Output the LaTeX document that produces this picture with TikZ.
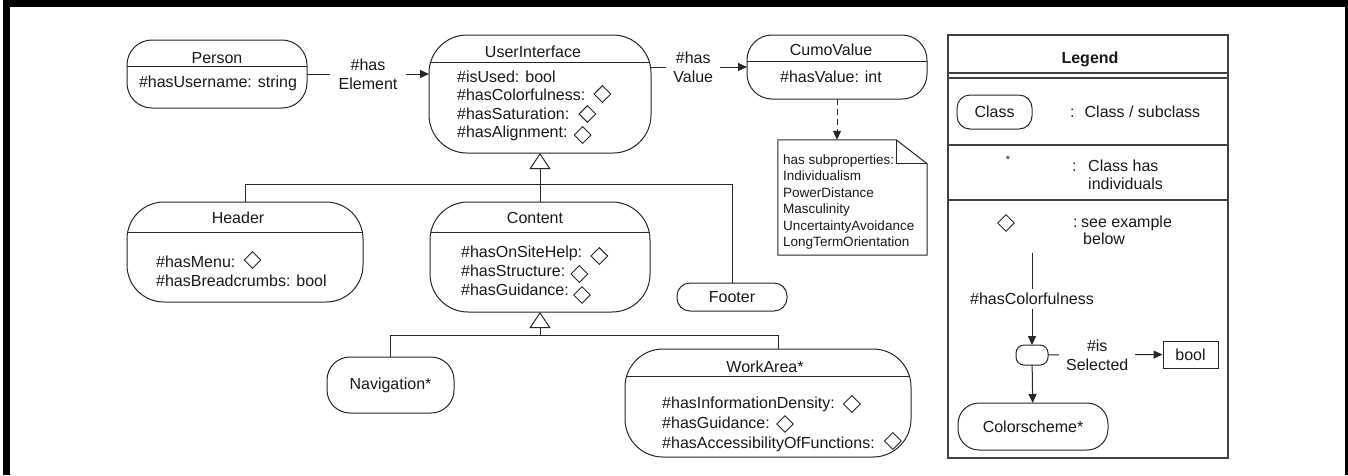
\documentclass[tikz,border=0pt]{standalone}
\usepackage{fontspec}
\setmainfont{Liberation Sans}
\usetikzlibrary{arrows.meta,shapes.geometric}
\tikzset{
  ln/.style={line width=1pt, draw=black!85},
  cls/.style={draw=black!85, line width=1pt, rounded corners=#1pt, inner sep=0pt, outer sep=0pt},
  txt/.style={font=\fontsize{16}{19}\selectfont, text=black!90, inner sep=0pt},
  ntxt/.style={font=\fontsize{13.5}{16}\selectfont, text=black!90, inner sep=0pt},
  dia/.style={draw=black!85, line width=0.9pt, diamond, minimum width=17pt, minimum height=17pt, inner sep=0pt},
  arr/.style={ln, -{Triangle[length=9pt,width=8pt]}},
  inh/.style={ln, -{Triangle[open,length=16pt,width=21pt,fill=white]}},
  lbl/.style={txt, fill=white, align=center, inner xsep=7pt, inner ysep=2pt},
}
\newcommand{\umlbox}[7]{%
  \pgfmathsetmacro\ubw{#4-#2}\pgfmathsetmacro\ubh{#5-#3}%
  \pgfmathsetmacro\ubx{(#2+#4)/2}\pgfmathsetmacro\uby{(#3+#5)/2}%
  \node[cls=#6, minimum width=\ubw pt, minimum height=\ubh pt] (#1) at (\ubx,\uby) {};%
  \ifx&#7&\else
  \begin{scope}\clip[rounded corners=#6pt] (#2,#3) rectangle (#4,#5);\draw[ln] (#2,#7) -- (#4,#7);\end{scope}%
  \fi}
\newcommand{\tl}[4]{\node[txt, anchor=base west] (#1) at (#2,#3) {#4};}
\newcommand{\tc}[4]{\node[txt, anchor=base] (#1) at (#2,#3) {#4};}
\newcommand{\ntl}[4]{\node[ntxt, anchor=base west] (#1) at (#2,#3) {#4};}
\newcommand{\dmr}[4]{\node[dia, anchor=west] (#1) at ([xshift=#3pt, yshift=#4pt]#2.base east) {};}
\begin{document}
\begin{tikzpicture}[x=1pt,y=-1pt]
\useasboundingbox (0,0) rectangle (1348,475);
% frame
\fill[black] (3,0) rectangle (1348,7);
\fill[black] (3,0) rectangle (10,475);
\fill[black] (1345,0) rectangle (1348,475);

% Person
\umlbox{person}{127}{40}{307}{108}{25}{66}
\tc{person-t}{217}{63}{Person}
\tc{person-a}{218}{87}{\#hasUsername: string}

% UserInterface
\umlbox{ui}{429}{35}{651}{153}{38}{62}
\tc{ui-t}{533}{57}{UserInterface}
\tl{ui-a1}{457}{82}{\#isUsed: bool}
\tl{ui-a2}{457}{100}{\#hasColorfulness:}
\tl{ui-a3}{457}{119}{\#hasSaturation:}
\tl{ui-a4}{457}{137}{\#hasAlignment:}
\dmr{ui-d2}{ui-a2}{8}{6}
\dmr{ui-d3}{ui-a3}{9}{5}
\dmr{ui-d4}{ui-a4}{6}{2}

% CumoValue
\umlbox{cumo}{747}{35}{927}{99}{25}{61}
\tc{cumo-t}{831}{55}{CumoValue}
\tc{cumo-a}{831}{82}{\#hasValue: int}

% note
\node[minimum width=149pt, minimum height=115pt, inner sep=0pt] (note) at (852.5,197.5) {};
\draw[ln] (note.north west) -- ([xshift=-31pt]note.north east) -- ([yshift=-24pt]note.north east) -- (note.south east) -- (note.south west) -- cycle;
\draw[ln] ([xshift=-31pt]note.north east) -- ([xshift=-31pt,yshift=-24pt]note.north east) -- ([yshift=-24pt]note.north east);
\ntl{n1}{783}{164}{has subproperties:}
\ntl{n2}{783}{180.5}{Individualism}
\ntl{n3}{783}{197}{PowerDistance}
\ntl{n4}{783}{213.5}{Masculinity}
\ntl{n5}{783}{230}{UncertaintyAvoidance}
\ntl{n6}{783}{246.5}{LongTermOrientation}

% Header
\umlbox{header}{127}{202}{363}{302}{37}{232}
\tc{header-t}{238}{223}{Header}
\tl{header-a1}{156}{267}{\#hasMenu:}
\tl{header-a2}{156}{286}{\#hasBreadcrumbs: bool}
\dmr{header-d1}{header-a1}{8}{7}

% Content
\umlbox{content}{430}{202}{650}{312}{38}{232}
\tc{content-t}{535}{223}{Content}
\tl{content-a1}{461}{257}{\#hasOnSiteHelp:}
\tl{content-a2}{461}{276}{\#hasStructure:}
\tl{content-a3}{461}{295}{\#hasGuidance:}
\dmr{content-d1}{content-a1}{8}{1}
\dmr{content-d2}{content-a2}{5}{2}
\dmr{content-d3}{content-a3}{4}{0}

% Footer
\node[cls=13, txt, minimum width=110pt, minimum height=28pt] (footer) at (732,297) {Footer};

% Navigation
\node[cls=23, txt, minimum width=127pt, minimum height=56pt] (nav) at (390.5,385) {Navigation*};

% WorkArea
\umlbox{wa}{625}{349}{911}{457}{38}{376}
\tc{wa-t}{765}{372}{WorkArea*}
\tl{wa-a1}{662}{408}{\#hasInformationDensity:}
\tl{wa-a2}{662}{428}{\#hasGuidance:}
\tl{wa-a3}{662}{448}{\#hasAccessibilityOfFunctions:}
\dmr{wa-d1}{wa-a1}{8}{4}
\dmr{wa-d2}{wa-a2}{6}{4}
\dmr{wa-d3}{wa-a3}{9}{7}

% connectors
\draw[arr] (person.east) -- node[lbl, inner xsep=9pt]{\#has\\Element} (person.east -| ui.west);
\draw[arr] (ui.east |- cumo.west) -- node[lbl, pos=0.44]{\#has\\Value} (cumo.west);
\draw[arr, dash pattern=on 6pt off 4pt] (cumo.south) -- (cumo.south |- note.north);
\coordinate (j1) at (540,184);
\draw[inh] (content.north) -- (ui.south);
\draw[ln] (header.north) |- (j1);
\draw[ln] (footer.north) |- (j1);
\coordinate (j2) at (540,335);
\draw[inh] (j2) -- (content.south);
\draw[ln] (nav.north) |- (j2);
\draw[ln] ([xshift=10pt]wa.north) |- (j2);

% Legend
\node[draw=black!75, line width=1.3pt, minimum width=280pt, minimum height=423pt, inner sep=0pt] (legend) at (1088,246.5) {};
\tc{leg-t}{1090}{63}{\textbf{Legend}}
\draw[ln, draw=black!75, line width=1.2pt] (948,73) -- (1228,73);
\draw[ln, draw=black!75, line width=1.2pt] (948,78) -- (1228,78);
\draw[ln, draw=black!75, line width=1.2pt] (948,145) -- (1228,145);
\draw[ln, draw=black!75, line width=1.2pt] (948,200) -- (1228,200);
\node[cls=13, txt, minimum width=75pt, minimum height=34pt] (lg-class) at (994.5,112) {Class};
\tl{lg-r1}{1070}{117}{:\hspace{10pt}Class / subclass}
\node[txt, font=\fontsize{11}{11}\selectfont] (lg-star) at (1008,160) {*};
\tl{lg-r2a}{1072}{171}{:}
\tl{lg-r2b}{1088}{171}{Class has}
\tl{lg-r2c}{1088}{189}{individuals}
\node[dia] (lg-dia) at (1006,223) {};
\tl{lg-r3a}{1073}{227}{:}
\tl{lg-r3b}{1081}{227}{see example}
\tl{lg-r3c}{1083}{244}{below}
\coordinate (lg-top) at (1032,253);
\node[cls=8, minimum width=32pt, minimum height=20pt] (lg-small) at (1032,355) {};
\node[cls=21, txt, minimum width=150pt, minimum height=47pt] (lg-cs) at (1033,426.5) {Colorscheme*};
\node[draw=black!85, line width=1pt, txt, minimum width=55pt, minimum height=27pt] (lg-bool) at (1190.5,354.5) {bool};
\draw[arr] (lg-top) -- node[lbl, inner ysep=4pt]{\#hasColorfulness} (lg-small);
\draw[arr] (lg-small) -- (lg-cs);
\draw[arr] (lg-small) -- node[lbl, pos=0.43]{\#is\\Selected} (lg-bool);
\end{tikzpicture}
\end{document}
